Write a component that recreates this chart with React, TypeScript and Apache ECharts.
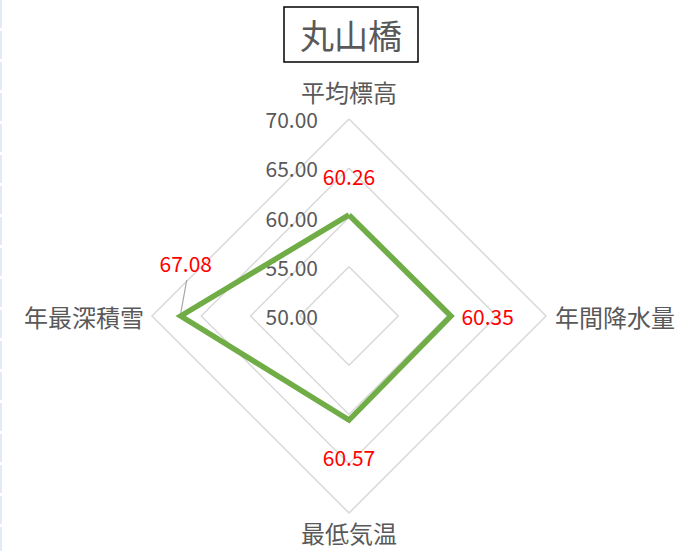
import React, { useEffect, useRef } from "react";
import * as echarts from "echarts";

const titleText = "丸山橋";
// radar order (counter-clockwise from top): top, left, bottom, right
const indicatorNames = ["平均標高", "年最深積雪", "最低気温", "年間降水量"];
const values = [60.26, 67.08, 60.57, 60.35];
const axisMin = 50;
const axisMax = 70;
const axisSplits = 4;
const labelPositions = ["top", "top", "bottom", "right"];
const labelDistances = [28, 42, 26, 10];
const labelOffsets = [[0, 0], [5, 0], [0, 0], [0, 0]];
const nameGaps = [16, 8, 7, 9];

const FONT = "'Noto Sans CJK JP', 'Noto Sans', sans-serif";

export default function App() {
  const ref = useRef<HTMLDivElement>(null);
  useEffect(() => {
    if (!ref.current) return;
    const chart = echarts.init(ref.current, null, { renderer: "svg" });
    const labelSeriesData = values.map((_, k) => ({
      value: values,
      symbol: "circle",
      symbolSize: 1,
      itemStyle: { color: "rgba(0,0,0,0)" },
      lineStyle: { width: 0, opacity: 0 },
      label: {
        show: true,
        position: labelPositions[k],
        distance: labelDistances[k],
        offset: labelOffsets[k],
        color: "#FF0000",
        fontSize: 21,
        fontFamily: FONT,
        formatter: (p: any) => {
          const dim = p.dimensionIndex;
          if (dim != null) return dim === k ? values[k].toFixed(2) : "";
          return p.value === values[k] ? values[k].toFixed(2) : "";
        },
      },
    }));
    const border = {
      type: "line",
      shape: { x1: 1, y1: 0, x2: 1, y2: 551 },
      style: { stroke: "#DAE3F3", lineWidth: 1.5, lineDash: [28, 3] },
    };
    chart.setOption({
      animation: false,
      backgroundColor: "#ffffff",
      title: {
        text: titleText,
        left: 284,
        top: 7,
        padding: [7, 16, 7, 16],
        borderColor: "#000000",
        borderWidth: 1.5,
        textStyle: {
          color: "#595959",
          fontSize: 34,
          fontWeight: "normal",
          fontFamily: FONT,
          lineHeight: 41,
        },
      },
      radar: {
        center: [349, 316],
        radius: 197,
        shape: "polygon",
        splitNumber: axisSplits,
        nameGap: 9,
        axisName: {
          color: "#595959",
          fontSize: 24,
          fontFamily: FONT,
        },
        axisLine: { show: false },
        axisTick: { show: false },
        splitArea: { show: false },
        splitLine: { lineStyle: { color: "#D9D9D9", width: 1.5 } },
        axisLabel: { show: false },
        indicator: indicatorNames.map((name, i) => ({
          name,
          min: axisMin,
          max: axisMax,
          nameGap: nameGaps[i],
          ...(i === 0
            ? {
                axisLabel: {
                  show: true,
                  color: "#595959",
                  fontSize: 21,
                  fontFamily: FONT,
                  margin: 31,
                  formatter: (v: number) => v.toFixed(2),
                },
              }
            : {}),
        })),
      },
      series: [
        {
          type: "radar",
          symbol: "none",
          lineStyle: { color: "#70AD47", width: 5.5, join: "miter" },
          itemStyle: { color: "#70AD47" },
          data: [{ value: values }],
          z: 3,
        },
        {
          type: "radar",
          data: labelSeriesData,
          z: 4,
        },
      ],
      graphic: [border],
    });
    try {
      const radar = (chart as any).getModel().getComponent("radar").coordinateSystem;
      const p = radar.dataToPoint(values[1], 1);
      chart.setOption({
        graphic: [
          border,
          {
            type: "line",
            shape: { x1: p[0], y1: p[1] - 3, x2: p[0] + 6, y2: p[1] - 36 },
            style: { stroke: "#A6A6A6", lineWidth: 1.2 },
            z: 5,
          },
        ],
      });
    } catch (e) {}
    return () => chart.dispose();
  }, []);
  return (
    <div
      ref={ref}
      style={{ position: "fixed", left: 0, top: 0, width: 690, height: 551 }}
    />
  );
}
